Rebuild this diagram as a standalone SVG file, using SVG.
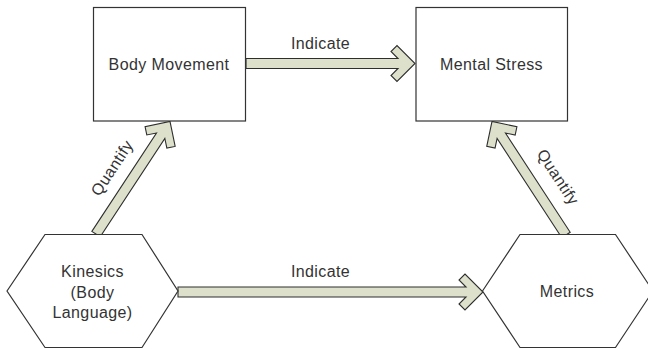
<svg xmlns="http://www.w3.org/2000/svg" width="648" height="349" viewBox="0 0 648 349">
  <style>
    .node { fill: #ffffff; stroke: #333333; stroke-width: 1.2; }
    .lbl { font-family: "Liberation Sans", Arial, sans-serif; font-size: 16px; letter-spacing: 0.4px; fill: #333333; text-anchor: middle; }
    .arrow { fill: #dde1cb; stroke: #2e2e2e; stroke-width: 1.1; stroke-linejoin: miter; }
  </style>
  <rect width="648" height="349" fill="#ffffff"/>

  <g id="connectors">
    <path class="arrow" transform="translate(415,63.5)" d="M-169,-5 L-17,-5 L-24,-12 L-18,-18 L0,0 L-18,18 L-24,12 L-17,5 L-169,5 Z"/>
    <path class="arrow" transform="translate(483,292)" d="M-305,-5 L-17,-5 L-24,-12 L-18,-18 L0,0 L-18,18 L-24,12 L-17,5 L-305,5 Z"/>
    <path class="arrow" transform="translate(170,121.5) rotate(-56.7)" d="M-134.7,-5 L-17,-5 L-24,-12 L-18,-18 L0,0 L-18,18 L-24,12 L-17,5 L-134.7,5 Z"/>
    <path class="arrow" transform="translate(492,121.5) rotate(-123.1)" d="M-135.5,-5 L-17,-5 L-24,-12 L-18,-18 L0,0 L-18,18 L-24,12 L-17,5 L-135.5,5 Z"/>
    <text class="lbl" x="320.5" y="48.5">Indicate</text>
    <text class="lbl" x="320.5" y="276.5">Indicate</text>
    <text class="lbl" transform="translate(112,168) rotate(-56.7)" x="0" y="5.5">Quantify</text>
    <text class="lbl" transform="translate(558,177) rotate(56.9)" x="0" y="5.5">Quantify</text>
  </g>

  <g id="body-movement">
    <rect class="node" x="93.5" y="7.5" width="152" height="113.5"/>
    <text class="lbl" x="169" y="69.5">Body Movement</text>
  </g>

  <g id="mental-stress">
    <rect class="node" x="416" y="7.5" width="151.5" height="113.5"/>
    <text class="lbl" x="491.5" y="69.5">Mental Stress</text>
  </g>

  <g id="kinesics">
    <polygon class="node" points="7,291 45,234.5 142,234.5 178,291 142,347.5 45,347.5"/>
    <text class="lbl" x="92.5" y="277">Kinesics</text>
    <text class="lbl" x="92.5" y="297.5">(Body</text>
    <text class="lbl" x="92.5" y="318">Language)</text>
  </g>

  <g id="metrics">
    <polygon class="node" points="482.5,291 520,234.5 615.5,234.5 653,291 615.5,347.5 520,347.5"/>
    <text class="lbl" x="567" y="297">Metrics</text>
  </g>
</svg>
